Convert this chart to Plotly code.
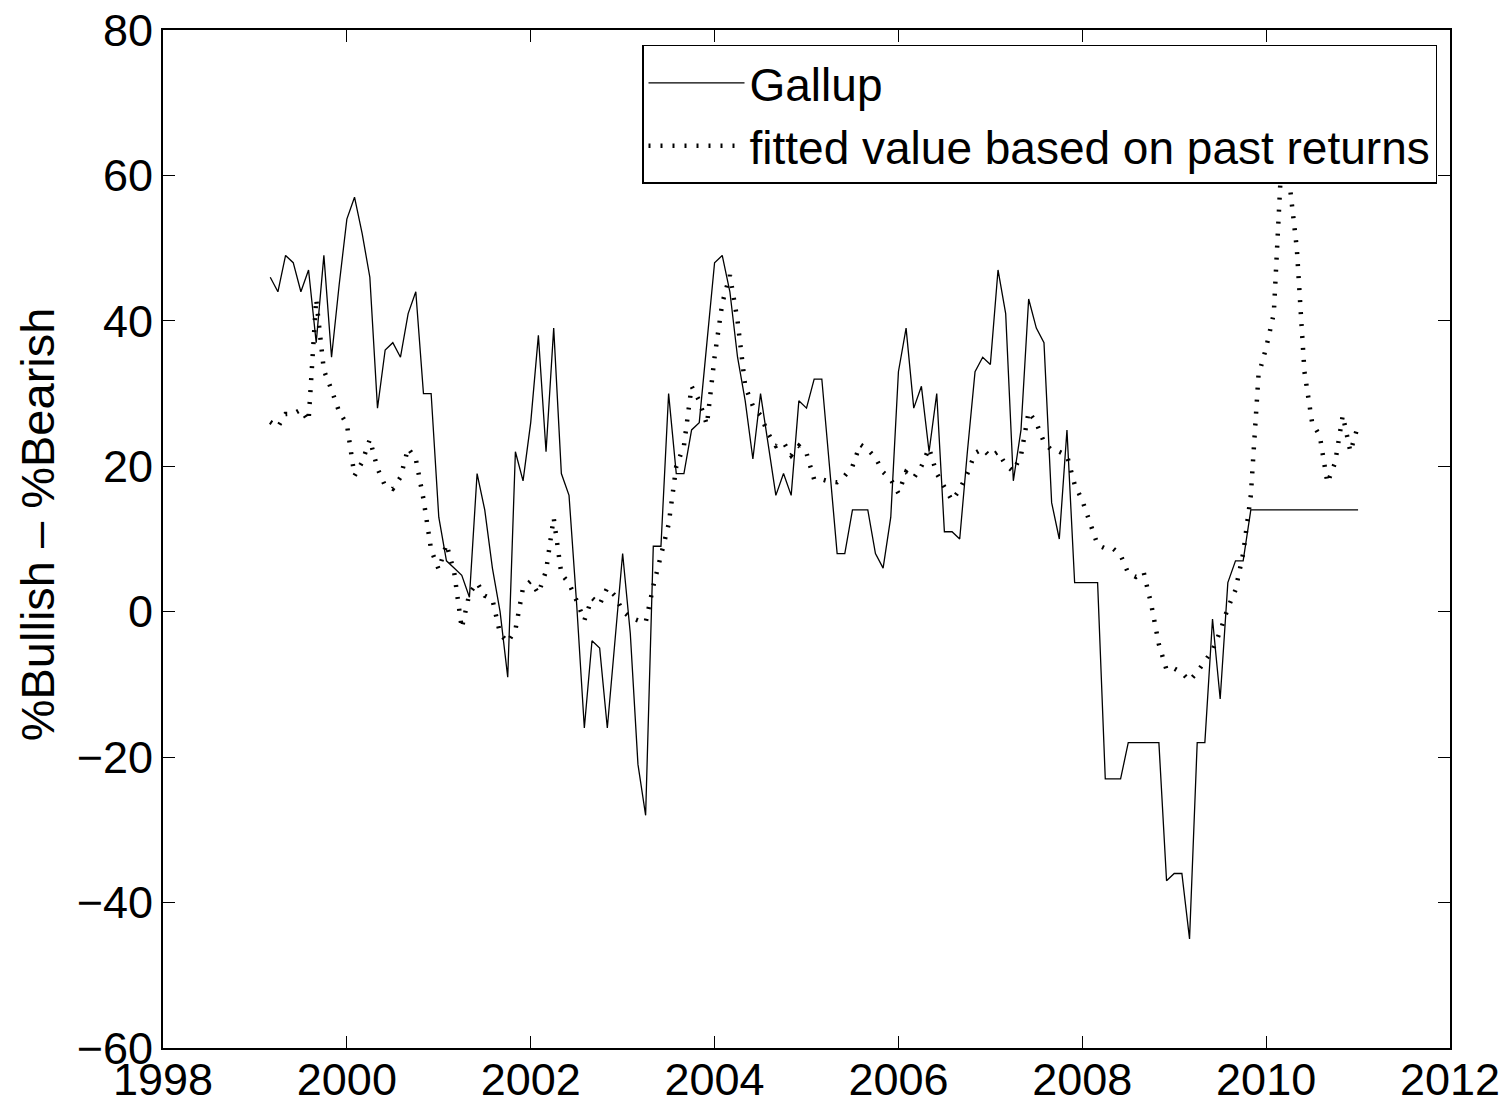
import pandas as pd
import plotly.graph_objects as go

# Monthly observations, March 1999 .. January 2011
start_month = "1999-03-01"

gallup = [46, 44, 49, 48, 44, 47, 37, 49, 35, 45,
          54, 57, 52, 46, 28, 36, 37, 35, 41, 44,
          30, 30, 13, 7, 6, 5, 2, 19, 14, 6,
          0, -9, 22, 18, 26, 38, 22, 39, 19, 16,
          1, -16, -4, -5, -16, -4, 8, -3, -21, -28,
          9, 9, 30, 19, 19, 25, 26, 37, 48, 49,
          44, 35, 29, 21, 30, 23, 16, 19, 16, 29,
          28, 32, 32, 20, 8, 8, 14, 14, 14, 8,
          6, 13, 33, 39, 28, 31, 22, 30, 11, 11,
          10, 22, 33, 35, 34, 47, 41, 18, 25, 43,
          39, 37, 15, 10, 25, 4, 4, 4, 4, -23,
          -23, -23, -18, -18, -18, -18, -18, -37, -36, -36,
          -45, -18, -18, -1, -12, 4, 7, 7, 14, 14,
          14, 14, 14, 14, 14, 14, 14, 14, 14, 14,
          14, 14, 14]

fitted = [26.1, 25.4, 27.2, 27.2, 27.8, 26.2, 43.0, 33.2, 30.5, 27.5,
          25.8, 18.7, 20.6, 23.7, 19.7, 17.3, 16.9, 18.5, 22.5, 21.0,
          15.5, 8.5, 5.8, 9.3, 5.5, -2.3, 2.5, 4.0, 2.2, 1.7,
          -3.0, -4.2, -2.5, 3.3, 4.2, 2.5, 5.6, 12.9, 5.2, 3.9,
          1.5, -1.2, 1.9, 1.0, 3.3, 2.2, 0.1, -0.8, -1.2, -1.5,
          3.5, 8.0, 12.0, 20.0, 22.8, 31.0, 29.0, 25.7, 35.0, 42.4,
          46.3, 40.0, 31.0, 28.3, 27.0, 24.5, 22.8, 23.3, 21.5, 22.8,
          21.8, 18.2, 18.2, 17.9, 17.8, 18.7, 20.0, 23.0, 22.3, 21.2,
          19.2, 18.2, 16.3, 19.2, 18.4, 20.0, 22.5, 19.0, 17.2, 15.3,
          16.8, 19.0, 21.8, 22.4, 21.3, 22.0, 20.2, 19.3, 21.5, 27.5,
          26.0, 23.3, 22.2, 22.0, 21.5, 17.5, 15.3, 12.0, 9.2, 8.7,
          8.7, 7.8, 5.3, 4.8, 5.5, 1.0, -4.5, -8.0, -7.8, -8.4,
          -9.5, -8.3, -6.8, -5.3, -2.7, 0.5, 3.0, 8.0, 16.0, 32.5,
          36.3, 41.0, 62.0, 59.4, 50.0, 33.0, 26.0, 24.2, 17.7, 20.5,
          27.0, 22.0, 25.6]

x_ticks = [1998, 2000, 2002, 2004, 2006, 2008, 2010, 2012]
y_ticks = [-60, -40, -20, 0, 20, 40, 60, 80]

months = pd.date_range(start_month, periods=len(gallup), freq="MS")
t = [m.year + (m.month - 1) / 12 for m in months]

FONT = "Liberation Sans, Arial, Helvetica, sans-serif"

fig = go.Figure()
fig.add_trace(go.Scatter(x=t, y=gallup, mode="lines", name="Gallup",
                         line=dict(color="black", width=1.3)))
fig.add_trace(go.Scatter(x=t, y=fitted, mode="lines",
                         name="fitted value based on past returns",
                         line=dict(color="black", width=4.5, dash="2px,10px")))

axis_common = dict(showline=True, linecolor="black", linewidth=1.8, mirror="ticks",
                   ticks="inside", ticklen=12, tickwidth=1, tickcolor="black",
                   showgrid=False, zeroline=False, automargin=False,
                   tickfont=dict(family=FONT, size=45, color="black"))

fig.update_xaxes(range=[1998, 2012], tickvals=x_ticks, ticklabelstandoff=-9,
                 **axis_common)
fig.update_yaxes(range=[-60, 80], tickvals=y_ticks, ticklabelstandoff=-1,
                 **axis_common)

fig.update_layout(
    width=1509, height=1107,
    margin=dict(l=163, r=59, t=30, b=59, autoexpand=False),
    paper_bgcolor="white", plot_bgcolor="white",
    font=dict(family=FONT, color="black"),
    showlegend=True,
    legend=dict(x=0.9899, y=0.9853, xanchor="right", yanchor="top",
                bgcolor="white", bordercolor="black", borderwidth=1.5,
                font=dict(family=FONT, size=46, color="black"),
                itemwidth=96, tracegroupgap=0),
    annotations=[dict(text="%Bullish – %Bearish", textangle=-90,
                      xref="paper", yref="paper", x=-0.0975, y=0.514,
                      xanchor="center", yanchor="middle", showarrow=False,
                      font=dict(family=FONT, size=47, color="black"))],
)

fig.write_html("out.html")
